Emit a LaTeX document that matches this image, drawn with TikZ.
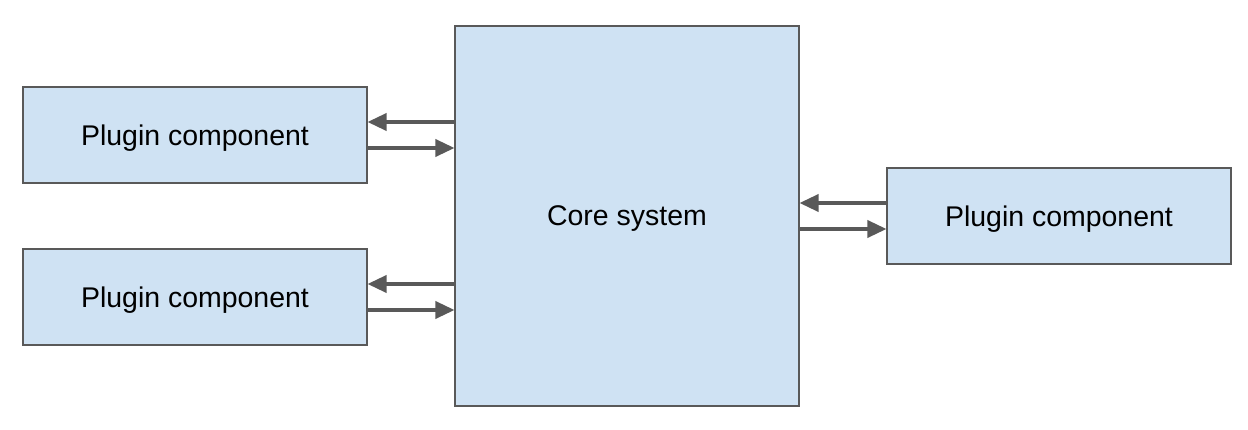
\documentclass[tikz,border=0pt]{standalone}
\usepackage{fontspec}
\setmainfont{Liberation Sans}
\usetikzlibrary{arrows.meta, positioning}
\definecolor{boxfill}{HTML}{CFE2F3}
\definecolor{boxline}{HTML}{595959}

\begin{document}
\begin{tikzpicture}[
  every node/.style={font=\fontsize{16.2}{19}\selectfont},
  part/.style={rectangle, draw=boxline, fill=boxfill, line width=0.6pt, minimum width=6.88cm, minimum height=1.92cm, inner sep=0pt, text depth=0pt},
  core/.style={part, minimum height=7.6cm},
  flow/.style={-{Triangle[length=0.38cm, width=0.34cm]}, boxline, line width=2pt},
]
\useasboundingbox (0,0) rectangle (24.96,8.6);
\node[core] (sys) at (12.54, 4.28) {Core system};
\node[part] (lt) at (3.9, 5.9) {Plugin component};
\node[part] (lb) at (3.9, 2.66) {Plugin component};
\node[part] (rt) at (21.18, 4.28) {Plugin component};

\foreach \p in {lt, lb} {
  \draw[flow] ([yshift=0.26cm]\p.east -| sys.west) -- ([yshift=0.26cm]\p.east);
  \draw[flow] ([yshift=-0.26cm]\p.east) -- ([yshift=-0.26cm]\p.east -| sys.west);
}
\draw[flow] ([yshift=0.26cm]rt.west) -- ([yshift=0.26cm]rt.west -| sys.east);
\draw[flow] ([yshift=-0.26cm]rt.west -| sys.east) -- ([yshift=-0.26cm]rt.west);
\end{tikzpicture}
\end{document}
